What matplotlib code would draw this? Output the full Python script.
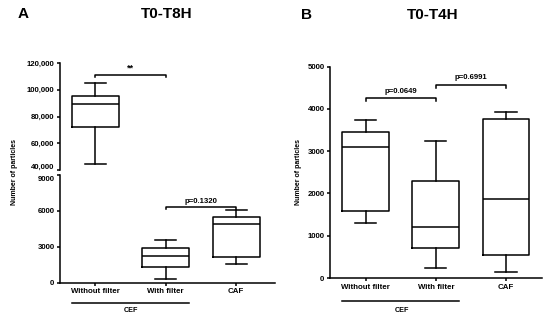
import numpy as np
import matplotlib.pyplot as plt
import matplotlib.transforms as mtransforms
from matplotlib.ticker import FuncFormatter

plt.rcParams['font.family'] = ['Liberation Sans', 'DejaVu Sans']
plt.rcParams['font.weight'] = 'bold'

# Data
groups = ["Without filter", "With filter", "CAF"]

# T0-T8H
a_whislo = [44700, 310, 1590]
a_q1 = [72400, 1290, 2150]
a_med = [89100, 2200, 4930]
a_q3 = [95300, 2900, 5510]
a_whishi = [104800, 3570, 6070]

# T0-T4H
b_whislo = [1294, 237, 149]
b_q1 = [1585, 717, 544]
b_med = [3106, 1206, 1869]
b_q3 = [3461, 2287, 3769]
b_whishi = [3738, 3234, 3920]

a_pvals = ["**", "p=0.1320"]
b_pvals = ["p=0.0649", "p=0.6991"]

LW = 1.1
tick_fs = 5.6


def make_stats(lo, q1, med, q3, hi):
    return [dict(whislo=lo[i], q1=q1[i], med=med[i], q3=q3[i], whishi=hi[i], fliers=[])
            for i in range(len(lo))]


def draw_boxes(ax, stats):
    props = dict(color='black', linewidth=LW)
    ax.bxp(stats, positions=[1, 2, 3], widths=0.67, capwidths=0.3, showfliers=False,
           boxprops=props, medianprops=props, whiskerprops=props, capprops=props,
           manage_ticks=False)


def bracket(ax, x1, x2, y, drop, label, fs=5.6):
    ax.plot([x1, x1, x2, x2], [y - drop, y, y, y - drop], color='black', lw=LW,
            clip_on=False)
    ax.text((x1 + x2) / 2, y + drop * 1.2, label, ha='center', va='bottom',
            fontsize=fs, fontweight='bold')


def style(ax):
    for s in ['top', 'right']:
        ax.spines[s].set_visible(False)
    for s in ['left', 'bottom']:
        ax.spines[s].set_linewidth(LW)
    ax.tick_params(direction='out', length=2.5, width=LW, labelsize=tick_fs, pad=1.5)


fig = plt.figure(figsize=(5.5, 3.26), dpi=100)

# Panel A: broken axis
a_stats = make_stats(a_whislo, a_q1, a_med, a_q3, a_whishi)
ax_top = fig.add_axes([0.109, 0.4785, 0.391, 0.328])
ax_bot = fig.add_axes([0.109, 0.1328, 0.391, 0.3304])
for ax in (ax_top, ax_bot):
    draw_boxes(ax, a_stats)
    style(ax)
    ax.set_xlim(0.5, 3.55)

ax_top.set_ylim(40000, 120000)
ax_top.set_yticks([40000, 60000, 80000, 100000, 120000])
ax_top.yaxis.set_major_formatter(FuncFormatter(lambda v, p: f"{int(v):,}"))
ax_top.spines['bottom'].set_visible(False)
ax_top.set_xticks([])
ax_top.patch.set_alpha(0)

ax_bot.set_ylim(0, 9000)
ax_bot.set_yticks([0, 3000, 6000, 9000])
ax_bot.set_xticks([1, 2, 3])
ax_bot.set_xticklabels(groups, fontsize=5.7, fontweight='bold')
ax_bot.patch.set_alpha(0)

# nudge the two labels at the axis break apart
fig.canvas.draw()
up = mtransforms.ScaledTranslation(0, 2.5 / 72, fig.dpi_scale_trans)
down = mtransforms.ScaledTranslation(0, -2.5 / 72, fig.dpi_scale_trans)
lab = ax_top.get_yticklabels()[0]
lab.set_transform(lab.get_transform() + up)
lab = ax_bot.get_yticklabels()[-1]
lab.set_transform(lab.get_transform() + down)

bracket(ax_top, 1, 2, 111300, 1500, a_pvals[0], fs=6.5)
bracket(ax_bot, 2, 3, 6320, 150, a_pvals[1])

# Panel B
b_stats = make_stats(b_whislo, b_q1, b_med, b_q3, b_whishi)
ax_b = fig.add_axes([0.6, 0.1472, 0.385, 0.6482])
draw_boxes(ax_b, b_stats)
style(ax_b)
ax_b.set_xlim(0.49, 3.51)
ax_b.set_ylim(0, 5000)
ax_b.set_yticks([0, 1000, 2000, 3000, 4000, 5000])
ax_b.set_xticks([1, 2, 3])
ax_b.set_xticklabels(groups, fontsize=5.7, fontweight='bold')
bracket(ax_b, 1, 2, 4258, 70, b_pvals[0])
bracket(ax_b, 2, 3, 4566, 70, b_pvals[1])

# CEF group lines
fig.add_artist(plt.Line2D([72 / 550, 189 / 550], [1 - 303 / 326] * 2, color='black', lw=LW))
fig.text(131 / 550, 1 - 311 / 326, "CEF", ha='center', va='center', fontsize=5.2, fontweight='bold')
fig.add_artist(plt.Line2D([342 / 550, 459 / 550], [1 - 301 / 326] * 2, color='black', lw=LW))
fig.text(402 / 550, 1 - 311 / 326, "CEF", ha='center', va='center', fontsize=5.2, fontweight='bold')

# Labels and titles
fig.text(15 / 550, 1 - 172 / 326, "Number of particles", rotation=90, ha='center', va='center',
         fontsize=5, fontweight='bold')
fig.text(298 / 550, 1 - 172 / 326, "Number of particles", rotation=90, ha='center', va='center',
         fontsize=5, fontweight='bold')
fig.text(167 / 550, 1 - 14 / 326, "T0-T8H", ha='center', va='center', fontsize=11, fontweight='bold')
fig.text(433 / 550, 1 - 15 / 326, "T0-T4H", ha='center', va='center', fontsize=11, fontweight='bold')
fig.text(23 / 550, 1 - 14 / 326, "A", ha='center', va='center', fontsize=11, fontweight='bold')
fig.text(306 / 550, 1 - 15 / 326, "B", ha='center', va='center', fontsize=11, fontweight='bold')

fig.savefig("out.png", dpi=100)
